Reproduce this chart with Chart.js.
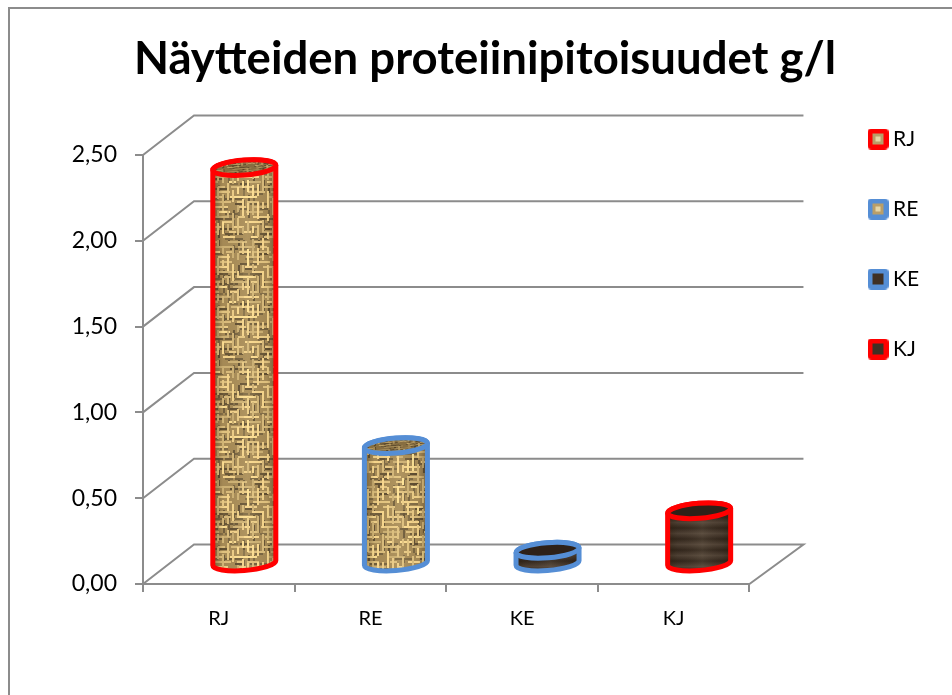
<!DOCTYPE html>
<html><head><meta charset="utf-8">
<style>html,body{margin:0;padding:0;background:#fff}canvas{display:block}</style>
<script src="https://cdn.jsdelivr.net/npm/chart.js@4"></script>
</head><body><canvas id="c" width="952" height="695"></canvas>
<script>
const titleText = 'Näytteiden proteiinipitoisuudet g/l';
const categories = ['RJ', 'RE', 'KE', 'KJ'];
const values = [2.31, 0.69, 0.08, 0.31];
const yTickLabels = ['0,00', '0,50', '1,00', '1,50', '2,00', '2,50'];
const borderColors = ['#ff0000', '#558ed5', '#558ed5', '#ff0000'];
const materials = ['burlap', 'burlap', 'dark', 'dark'];

const FONT = 'Lato, Carlito, sans-serif';
const GRID = '#8c8c8c';
const WALL = {dx: 51, dy: -39.5, extra: 54};
const DEPTH = {dx: 25.5, dy: -20};
const hash = (a, b) => { const s = Math.sin(a * 127.1 + b * 311.7) * 43758.5453; return s - Math.floor(s); };

function burlapTile() {
  const S = 120, step = 5;
  const raw = document.createElement('canvas'); raw.width = raw.height = S;
  const g = raw.getContext('2d');
  g.fillStyle = '#a98d58'; g.fillRect(0, 0, S, S);
  const seg = (horizontal, line, from, len, thick, col) => {
    g.fillStyle = col;
    for (const w of [0, -S]) {
      if (horizontal) g.fillRect(from + w, line, len, thick);
      else g.fillRect(line, from + w, thick, len);
    }
  };
  const shade = tone => `rgb(${Math.min(255, tone + 12)},${tone * 0.9 + 3},${tone * 0.6})`;
  for (let j = 0; j < S / step; j++) for (let i = 0; i < S / step; i++) {
    if (hash(i + 40, j) < 0.45) {
      const t = 82 + hash(i, j + 40) * 40;
      seg(hash(j, i + 70) < 0.5, j * step + 3, i * step, step + 3, 2, shade(t));
    }
  }
  const pass = (horizontal, seed) => {
    for (let j = 0; j < S / step; j++) {
      let x = (j * 7 + seed) % 15, k = 0;
      while (x < S) {
        const len = 7 + Math.floor(hash(j + seed, k) * 3) * 5;
        seg(horizontal, j * step + (horizontal ? 1 : 2), x, len, 2, shade(190 + hash(k + seed, j + 9) * 62));
        x += len + 6 + (hash(k + 3, j + seed) < 0.5 ? 5 : 0);
        k++;
      }
    }
  };
  pass(true, 0);
  pass(false, 17);
  const out = document.createElement('canvas'); out.width = out.height = S;
  const o = out.getContext('2d'); o.filter = 'blur(0.6px)';
  for (const a of [-S, 0, S]) for (const b of [-S, 0, S]) o.drawImage(raw, a, b);
  return out;
}
function darkTile() {
  const c = document.createElement('canvas'); c.width = 8; c.height = 44;
  const g = c.getContext('2d');
  const gr = g.createLinearGradient(0, 0, 0, 11);
  gr.addColorStop(0, '#32261c'); gr.addColorStop(0.5, '#4f4135'); gr.addColorStop(1, '#32261c');
  for (let k = 0; k < 4; k++) { g.save(); g.translate(0, k * 11); g.fillStyle = gr; g.fillRect(0, 0, 8, 11); g.restore(); }
  return c;
}
const tiles = {burlap: burlapTile(), dark: darkTile()};
const canvasEl = document.getElementById('c');
const patternCtx = canvasEl.getContext('2d');
const patterns = materials.map(m => patternCtx.createPattern(tiles[m], 'repeat'));

function swatch(i) {
  const c = document.createElement('canvas'); c.width = c.height = 21;
  const g = c.getContext('2d');
  g.fillStyle = borderColors[i];
  g.beginPath(); g.roundRect(0, 0, 21, 21, 4); g.fill();
  g.fillStyle = materials[i] === 'burlap' ? '#b99e68' : '#3f3024';
  g.fillRect(5, 5, 11, 11);
  if (materials[i] === 'burlap') { g.fillStyle = '#e6d6a6'; g.fillRect(8, 8, 5, 5); }
  return c;
}

function drawCylinder(ctx, el, i) {
  const a = el.width / 2 - 1, b = 7.5, rot = -4.5 * Math.PI / 180;
  const cx = el.x + DEPTH.dx, ty = el.y + DEPTH.dy, by = el.base + DEPTH.dy;
  const t0 = Math.atan2(-b * Math.sin(rot), a * Math.cos(rot));
  const W = a * Math.cos(t0) * Math.cos(rot) - b * Math.sin(t0) * Math.sin(rot);
  const H = a * Math.cos(t0) * Math.sin(rot) + b * Math.sin(t0) * Math.cos(rot);
  const body = () => {
    ctx.beginPath();
    ctx.moveTo(cx + W, ty + H);
    ctx.lineTo(cx + W, by + H);
    ctx.ellipse(cx, by, a, b, rot, t0, t0 + Math.PI, false);
    ctx.lineTo(cx - W, ty - H);
    ctx.ellipse(cx, ty, a, b, rot, t0 + Math.PI, t0 + 2 * Math.PI, false);
    ctx.closePath();
  };
  const dark = materials[i] === 'dark';
  ctx.save();
  body();
  ctx.fillStyle = patterns[i]; ctx.fill();
  const sh = ctx.createLinearGradient(cx - W, 0, cx + W, 0);
  sh.addColorStop(0, 'rgba(40,25,5,.4)');
  sh.addColorStop(0.16, 'rgba(40,25,5,.03)');
  sh.addColorStop(0.55, 'rgba(255,240,200,.08)');
  sh.addColorStop(0.86, 'rgba(40,25,5,.05)');
  sh.addColorStop(1, 'rgba(40,25,5,.4)');
  ctx.fillStyle = sh; ctx.fill();
  ctx.lineWidth = 5; ctx.lineJoin = 'round'; ctx.strokeStyle = borderColors[i]; ctx.stroke();
  ctx.beginPath(); ctx.ellipse(cx, ty, a, b, rot, 0, 2 * Math.PI);
  ctx.save(); ctx.clip();
  ctx.translate(cx, ty); ctx.rotate(rot); ctx.scale(1, 0.45);
  if (dark) { ctx.fillStyle = '#2e2118'; ctx.fillRect(-a - 2, -40, 2 * a + 4, 80); }
  else {
    ctx.fillStyle = patterns[i]; ctx.fillRect(-a - 2, -40, 2 * a + 4, 80);
    ctx.fillStyle = 'rgba(70,50,20,.34)'; ctx.fillRect(-a - 2, -40, 2 * a + 4, 80);
  }
  ctx.restore();
  ctx.beginPath(); ctx.ellipse(cx, ty, a, b, rot, 0, 2 * Math.PI);
  ctx.stroke();
  ctx.restore();
}

const scene = {
  id: 'scene',
  beforeDraw(chart) {
    const ctx = chart.ctx;
    ctx.save();
    ctx.strokeStyle = GRID; ctx.lineWidth = 2;
    ctx.beginPath(); ctx.moveTo(9, 695); ctx.lineTo(9, 8); ctx.lineTo(952, 8); ctx.stroke();
    ctx.restore();
  },
  afterLayout(chart) {
    const lg = chart.legend, pad = lg.options.labels.padding;
    const w = lg.right - lg.left;
    lg.left = 873.5 - pad; lg.right = lg.left + w;
    lg.top = 128.5 - pad; lg.bottom = 600;
    const t = chart.titleBlock;
    t.left = 18; t.right = 952;
  },
  beforeDatasetsDraw(chart) {
    const ctx = chart.ctx, y = chart.scales.y, a = chart.chartArea;
    ctx.save();
    ctx.strokeStyle = GRID; ctx.lineWidth = 2; ctx.lineJoin = 'miter';
    y.ticks.forEach((t, i) => {
      const p = y.getPixelForTick(i);
      ctx.beginPath();
      ctx.moveTo(a.left, p);
      ctx.lineTo(a.left + WALL.dx, p + WALL.dy);
      ctx.lineTo(a.right + WALL.extra, p + WALL.dy);
      if (i === 0) ctx.lineTo(a.right, p);
      ctx.stroke();
    });
    ctx.restore();
  },
  beforeDatasetDraw(chart, args) {
    chart.getDatasetMeta(args.index).data.forEach((el, i) => drawCylinder(chart.ctx, el, i));
    return false;
  }
};

new Chart(canvasEl, {
  type: 'bar',
  data: {
    labels: categories,
    datasets: [{
      label: 'g/l',
      data: values,
      backgroundColor: materials.map(m => m === 'burlap' ? '#b99e68' : '#3f3024'),
      borderColor: borderColors,
      borderWidth: 4,
      barPercentage: 1,
      categoryPercentage: 0.43
    }]
  },
  plugins: [scene],
  options: {
    responsive: false,
    animation: false,
    layout: {padding: {left: 18, right: 98, top: 0, bottom: 0}},
    plugins: {
      tooltip: {enabled: false},
      title: {
        display: true, text: titleText, color: '#000',
        font: {family: FONT, size: 45.5, weight: 'bold', lineHeight: 1},
        padding: {top: 37, bottom: 72.5}
      },
      legend: {
        position: 'right', align: 'start',
        onClick: null,
        labels: {
          color: '#000', font: {family: FONT, size: 21},
          padding: 49, usePointStyle: true, pointStyleWidth: 9,
          generateLabels: () => categories.map((c, i) => ({
            text: c, pointStyle: swatch(i), fillStyle: borderColors[i],
            strokeStyle: borderColors[i], lineWidth: 0, hidden: false, index: i
          }))
        }
      }
    },
    scales: {
      x: {
        grid: {display: true, offset: true, drawOnChartArea: false, color: GRID, lineWidth: 2, tickLength: 8},
        border: {color: GRID, width: 2},
        ticks: {color: '#000', font: {family: FONT, size: 20}, padding: 15, maxRotation: 0},
        afterFit: s => { s.height = 111; }
      },
      y: {
        min: 0, max: 2.5,
        grid: {display: true, drawOnChartArea: false, color: GRID, lineWidth: 2, tickLength: 8},
        border: {color: GRID, width: 2},
        ticks: {
          stepSize: 0.5, color: '#000', font: {family: FONT, size: 23}, padding: 18,
          callback: (v, i) => yTickLabels[i]
        },
        afterFit: s => { s.width = 125; }
      }
    }
  }
});
</script></body></html>
